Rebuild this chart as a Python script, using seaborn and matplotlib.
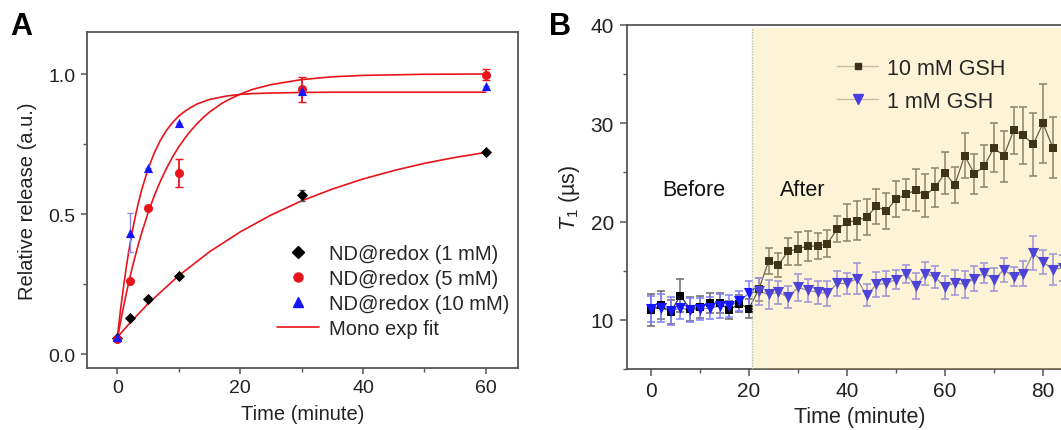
import numpy as np
import pandas as pd
import matplotlib
matplotlib.use("Agg")
import matplotlib.pyplot as plt
from matplotlib.lines import Line2D
from matplotlib.ticker import MultipleLocator
import seaborn as sns

# ---------------- Panel A data ----------------
time_a = [0, 2, 5, 10, 30, 60]
rel_1mM = [0.058, 0.127, 0.197, 0.280, 0.567, 0.720]
err_1mM = [0.0, 0.0, 0.0, 0.0, 0.02, 0.0]
rel_5mM = [0.055, 0.260, 0.520, 0.647, 0.945, 0.997]
err_5mM = [0.0, 0.0, 0.0, 0.05, 0.044, 0.02]
rel_10mM = [0.060, 0.433, 0.665, 0.825, 0.940, 0.957]
err_10mM = [0.0, 0.07, 0.0, 0.0, 0.0, 0.0]

# fitted curves
fit_t_fast = [0, 0.5, 1, 1.5, 2, 2.5, 3, 3.5, 4, 5, 6, 7, 8, 9, 10, 11, 12, 13, 14,
              15, 17, 18, 20, 22, 25, 30, 35, 40, 45, 50, 60]
fit_10mM = [0.06, 0.156, 0.24, 0.318, 0.386, 0.446, 0.50, 0.547, 0.59, 0.661, 0.718,
            0.763, 0.799, 0.827, 0.85, 0.867, 0.881, 0.893, 0.901, 0.909, 0.918,
            0.922, 0.927, 0.930, 0.932, 0.934, 0.935, 0.935, 0.935, 0.935, 0.935]
fit_5mM = [0.055, 0.114, 0.169, 0.221, 0.27, 0.316, 0.358, 0.398, 0.436, 0.504, 0.565,
           0.617, 0.663, 0.704, 0.74, 0.771, 0.799, 0.823, 0.845, 0.864, 0.895,
           0.907, 0.928, 0.945, 0.962, 0.98, 0.99, 0.995, 0.997, 0.999, 1.0]
fit_t_slow = [0, 2, 5, 10, 15, 20, 25, 30, 35, 40, 45, 50, 55, 60]
fit_1mM = [0.06, 0.11, 0.18, 0.28, 0.365, 0.436, 0.496, 0.547, 0.589, 0.625, 0.655,
           0.681, 0.702, 0.72]

# ---------------- Panel B data ----------------
time_b10 = list(range(0, 84, 2))
t1_10mM = [11.0, 11.5, 10.8, 12.45, 11.1, 11.3, 11.7, 11.7, 11.0, 11.65, 11.15,
           13.1, 15.97, 15.6, 16.97, 17.24, 17.5, 17.5, 17.76, 19.24, 19.93, 20.1,
           20.45, 21.55, 21.07, 22.28, 22.76, 23.2, 22.69, 23.5, 24.93, 23.72, 26.72,
           24.83, 25.66, 27.52, 26.66, 29.28, 28.76, 27.86, 30.0, 27.52]
t1_10mM_err = [1.6, 1.4, 1.2, 1.7, 1.2, 1.1, 1.0, 1.0, 0.9, 0.9, 1.0,
               1.2, 1.3, 1.2, 1.4, 1.7, 1.5, 1.3, 1.4, 1.35, 1.9, 2.0,
               1.8, 1.8, 1.8, 1.8, 1.6, 2.1, 2.2, 2.0, 2.1, 1.85, 2.3,
               2.0, 2.1, 2.5, 2.6, 2.4, 2.9, 3.2, 4.0, 3.1]
time_b1 = list(range(0, 86, 2))
t1_1mM = [11.1, 11.2, 10.9, 11.2, 11.0, 11.1, 11.2, 11.4, 11.4, 11.9, 12.7,
          12.9, 12.6, 12.8, 12.3, 13.3, 13.0, 12.8, 12.7, 13.7, 13.7, 14.2,
          12.5, 13.6, 13.7, 14.1, 14.7, 13.45, 14.7, 14.35, 13.3, 13.8, 13.6,
          14.2, 14.75, 14.1, 15.1, 14.4, 14.7, 16.8, 15.9, 15.1, 15.3]
t1_1mM_err = [1.3, 1.4, 1.4, 1.1, 1.2, 1.1, 1.15, 1.2, 1.1, 1.0, 1.3,
              1.4, 1.5, 1.2, 1.1, 1.4, 1.2, 1.2, 1.3, 1.3, 1.1, 1.6,
              1.1, 1.3, 1.3, 1.0, 0.9, 1.3, 1.2, 1.1, 1.2, 1.3, 1.4,
              1.3, 1.0, 1.2, 1.2, 1.0, 1.3, 1.7, 1.2, 1.6, 1.3]

legend_a = ["ND@redox (1 mM)", "ND@redox (5 mM)", "ND@redox (10 mM)", "Mono exp fit"]
legend_b = ["10 mM GSH", "1 mM GSH"]

sns.set_theme(style="ticks")
plt.rcParams["font.family"] = ["Liberation Sans", "DejaVu Sans"]
plt.rcParams["mathtext.fontset"] = "custom"
plt.rcParams["mathtext.rm"] = "Liberation Sans"
plt.rcParams["mathtext.it"] = "Liberation Sans:italic"
plt.rcParams["axes.edgecolor"] = "#555555"
plt.rcParams["axes.linewidth"] = 1.3
plt.rcParams["xtick.color"] = "#555555"
plt.rcParams["ytick.color"] = "#555555"
plt.rcParams["xtick.labelcolor"] = "#222222"
plt.rcParams["ytick.labelcolor"] = "#222222"

fig = plt.figure(figsize=(10.61, 4.31), dpi=100)
W, H = 1061.0, 431.0

RED = "#e8141b"
BLUE = "#1515ff"

# ---------------- Panel A ----------------
axA = fig.add_axes([86.7 / W, 1 - 369 / H, (517.7 - 86.7) / W, (369 - 33) / H])
for tt, yy in [(fit_t_slow, fit_1mM), (fit_t_fast, fit_5mM), (fit_t_fast, fit_10mM)]:
    sns.lineplot(x=tt, y=yy, ax=axA, color=RED, lw=1.2, zorder=2, sort=False)

axA.errorbar(time_a, rel_1mM, yerr=err_1mM, fmt="none", ecolor="#555555",
             elinewidth=1.0, capsize=2.5, zorder=3)
axA.errorbar(time_a, rel_5mM, yerr=err_5mM, fmt="none", ecolor=RED,
             elinewidth=1.3, capsize=3, zorder=3)
axA.errorbar(time_a, rel_10mM, yerr=err_10mM, fmt="none", ecolor="#8a8ae8",
             elinewidth=1.0, capsize=2.5, zorder=3)
sns.scatterplot(x=time_a, y=rel_1mM, ax=axA, marker="D", s=32, color="black",
                edgecolor="black", linewidth=0, zorder=4)
sns.scatterplot(x=time_a, y=rel_5mM, ax=axA, marker="o", s=42, color=RED,
                edgecolor=RED, linewidth=0, zorder=4)
sns.scatterplot(x=time_a, y=rel_10mM, ax=axA, marker="^", s=44, color=BLUE,
                edgecolor=BLUE, linewidth=0, zorder=5)

axA.set_xlim(-5, 65.2)
axA.set_ylim(-0.05, 1.15)
axA.xaxis.set_major_locator(MultipleLocator(20))
axA.xaxis.set_minor_locator(MultipleLocator(10))
axA.yaxis.set_major_locator(MultipleLocator(0.5))
axA.yaxis.set_minor_locator(MultipleLocator(0.25))
axA.tick_params(which="major", length=4, width=1.1, labelsize=14, pad=4)
axA.tick_params(which="minor", length=3, width=1.0)
axA.set_xlabel("Time (minute)", fontsize=14.5, color="#222222", labelpad=6)
axA.set_ylabel("Relative release (a.u.)", fontsize=14.5, color="#222222", labelpad=8)
for s in ["top", "right", "left", "bottom"]:
    axA.spines[s].set_visible(True)

hA = [Line2D([], [], ls="none", marker="D", ms=6, color="black"),
      Line2D([], [], ls="none", marker="o", ms=6.5, color=RED),
      Line2D([], [], ls="none", marker="^", ms=6.5, color=BLUE),
      Line2D([], [], color=RED, lw=1.2)]
axA.legend(hA, legend_a, loc="lower right", bbox_to_anchor=(1.0, 0.065),
           frameon=False, fontsize=14.5, handlelength=2.1, handletextpad=0.5,
           labelspacing=0.3, borderaxespad=0)

fig.text(10 / W, 1 - 27 / H, "A", fontsize=22, fontweight="bold", va="center",
         ha="left", color="black")

# ---------------- Panel B ----------------
xmaxB = 90.0
pxu = 4.9
axB = fig.add_axes([626.5 / W, 1 - 370 / H, (xmaxB + 5) * pxu / W, (370 - 26) / H])

sns.lineplot(x=time_b10, y=t1_10mM, ax=axB, color="#3a3a3a", lw=0.9, zorder=2, sort=False)
sns.lineplot(x=time_b1, y=t1_1mM, ax=axB, color="#7777aa", lw=0.9, zorder=2, sort=False)
axB.errorbar(time_b10, t1_10mM, yerr=t1_10mM_err, fmt="none", ecolor="#6a6a6a",
             elinewidth=1.1, capsize=3, capthick=1.1, zorder=3)
axB.errorbar(time_b1, t1_1mM, yerr=t1_1mM_err, fmt="none", ecolor="#8080ff",
             elinewidth=1.1, capsize=3, capthick=1.1, zorder=3)
sns.scatterplot(x=time_b10, y=t1_10mM, ax=axB, marker="s", s=36, color="black",
                edgecolor="black", linewidth=0, zorder=4)
sns.scatterplot(x=time_b1, y=t1_1mM, ax=axB, marker="v", s=64, color=BLUE,
                edgecolor=BLUE, linewidth=0, zorder=5)

# tinted "After" region drawn over the data
axB.axvspan(20.6, xmaxB + 5, ymin=0, ymax=0.992, color=(248 / 255, 208 / 255, 92 / 255),
            alpha=0.25, lw=0, zorder=6)
axB.axvline(20.6, ymin=0, ymax=0.992, color="#9cc4cc", lw=1.0, ls=(0, (1, 1)), zorder=6)

axB.set_xlim(-5, xmaxB)
axB.set_ylim(5, 40)
axB.xaxis.set_major_locator(MultipleLocator(20))
axB.xaxis.set_minor_locator(MultipleLocator(10))
axB.yaxis.set_major_locator(MultipleLocator(10))
axB.yaxis.set_minor_locator(MultipleLocator(5))
axB.tick_params(which="major", length=5, width=1.1, labelsize=15, pad=4)
axB.tick_params(which="minor", length=3, width=1.0)
axB.spines["right"].set_visible(False)
axB.spines["top"].set_visible(True)
axB.set_xlabel("Time (minute)", fontsize=15.5, color="#222222", labelpad=4)
axB.set_ylabel(r"$T_1$ (µs)", fontsize=15.5, color="#222222", labelpad=6)

axB.text(8.8, 23.3, "Before", fontsize=15.5, ha="center", va="center",
         color="#111111", zorder=7)
axB.text(30.9, 23.3, "After", fontsize=15.5, ha="center", va="center",
         color="#111111", zorder=7)

hB = [Line2D([], [], color="#c8c0a6", lw=1.0, marker="s", ms=5, mfc="#38321e",
             mec="#38321e"),
      Line2D([], [], color="#c8c0a6", lw=1.0, marker="v", ms=6.5, mfc="#4a3ce0",
             mec="#4a3ce0")]
axB.legend(hB, legend_b, loc="upper left", bbox_to_anchor=(41.5 / 95 - 0.003, 0.93),
           frameon=False, fontsize=15.5, handlelength=1.9, handletextpad=0.4,
           labelspacing=0.55, borderaxespad=0).set_zorder(8)

fig.text(549 / W, 1 - 27 / H, "B", fontsize=22, fontweight="bold", va="center",
         ha="left", color="black")

fig.savefig("out.png", dpi=100)
